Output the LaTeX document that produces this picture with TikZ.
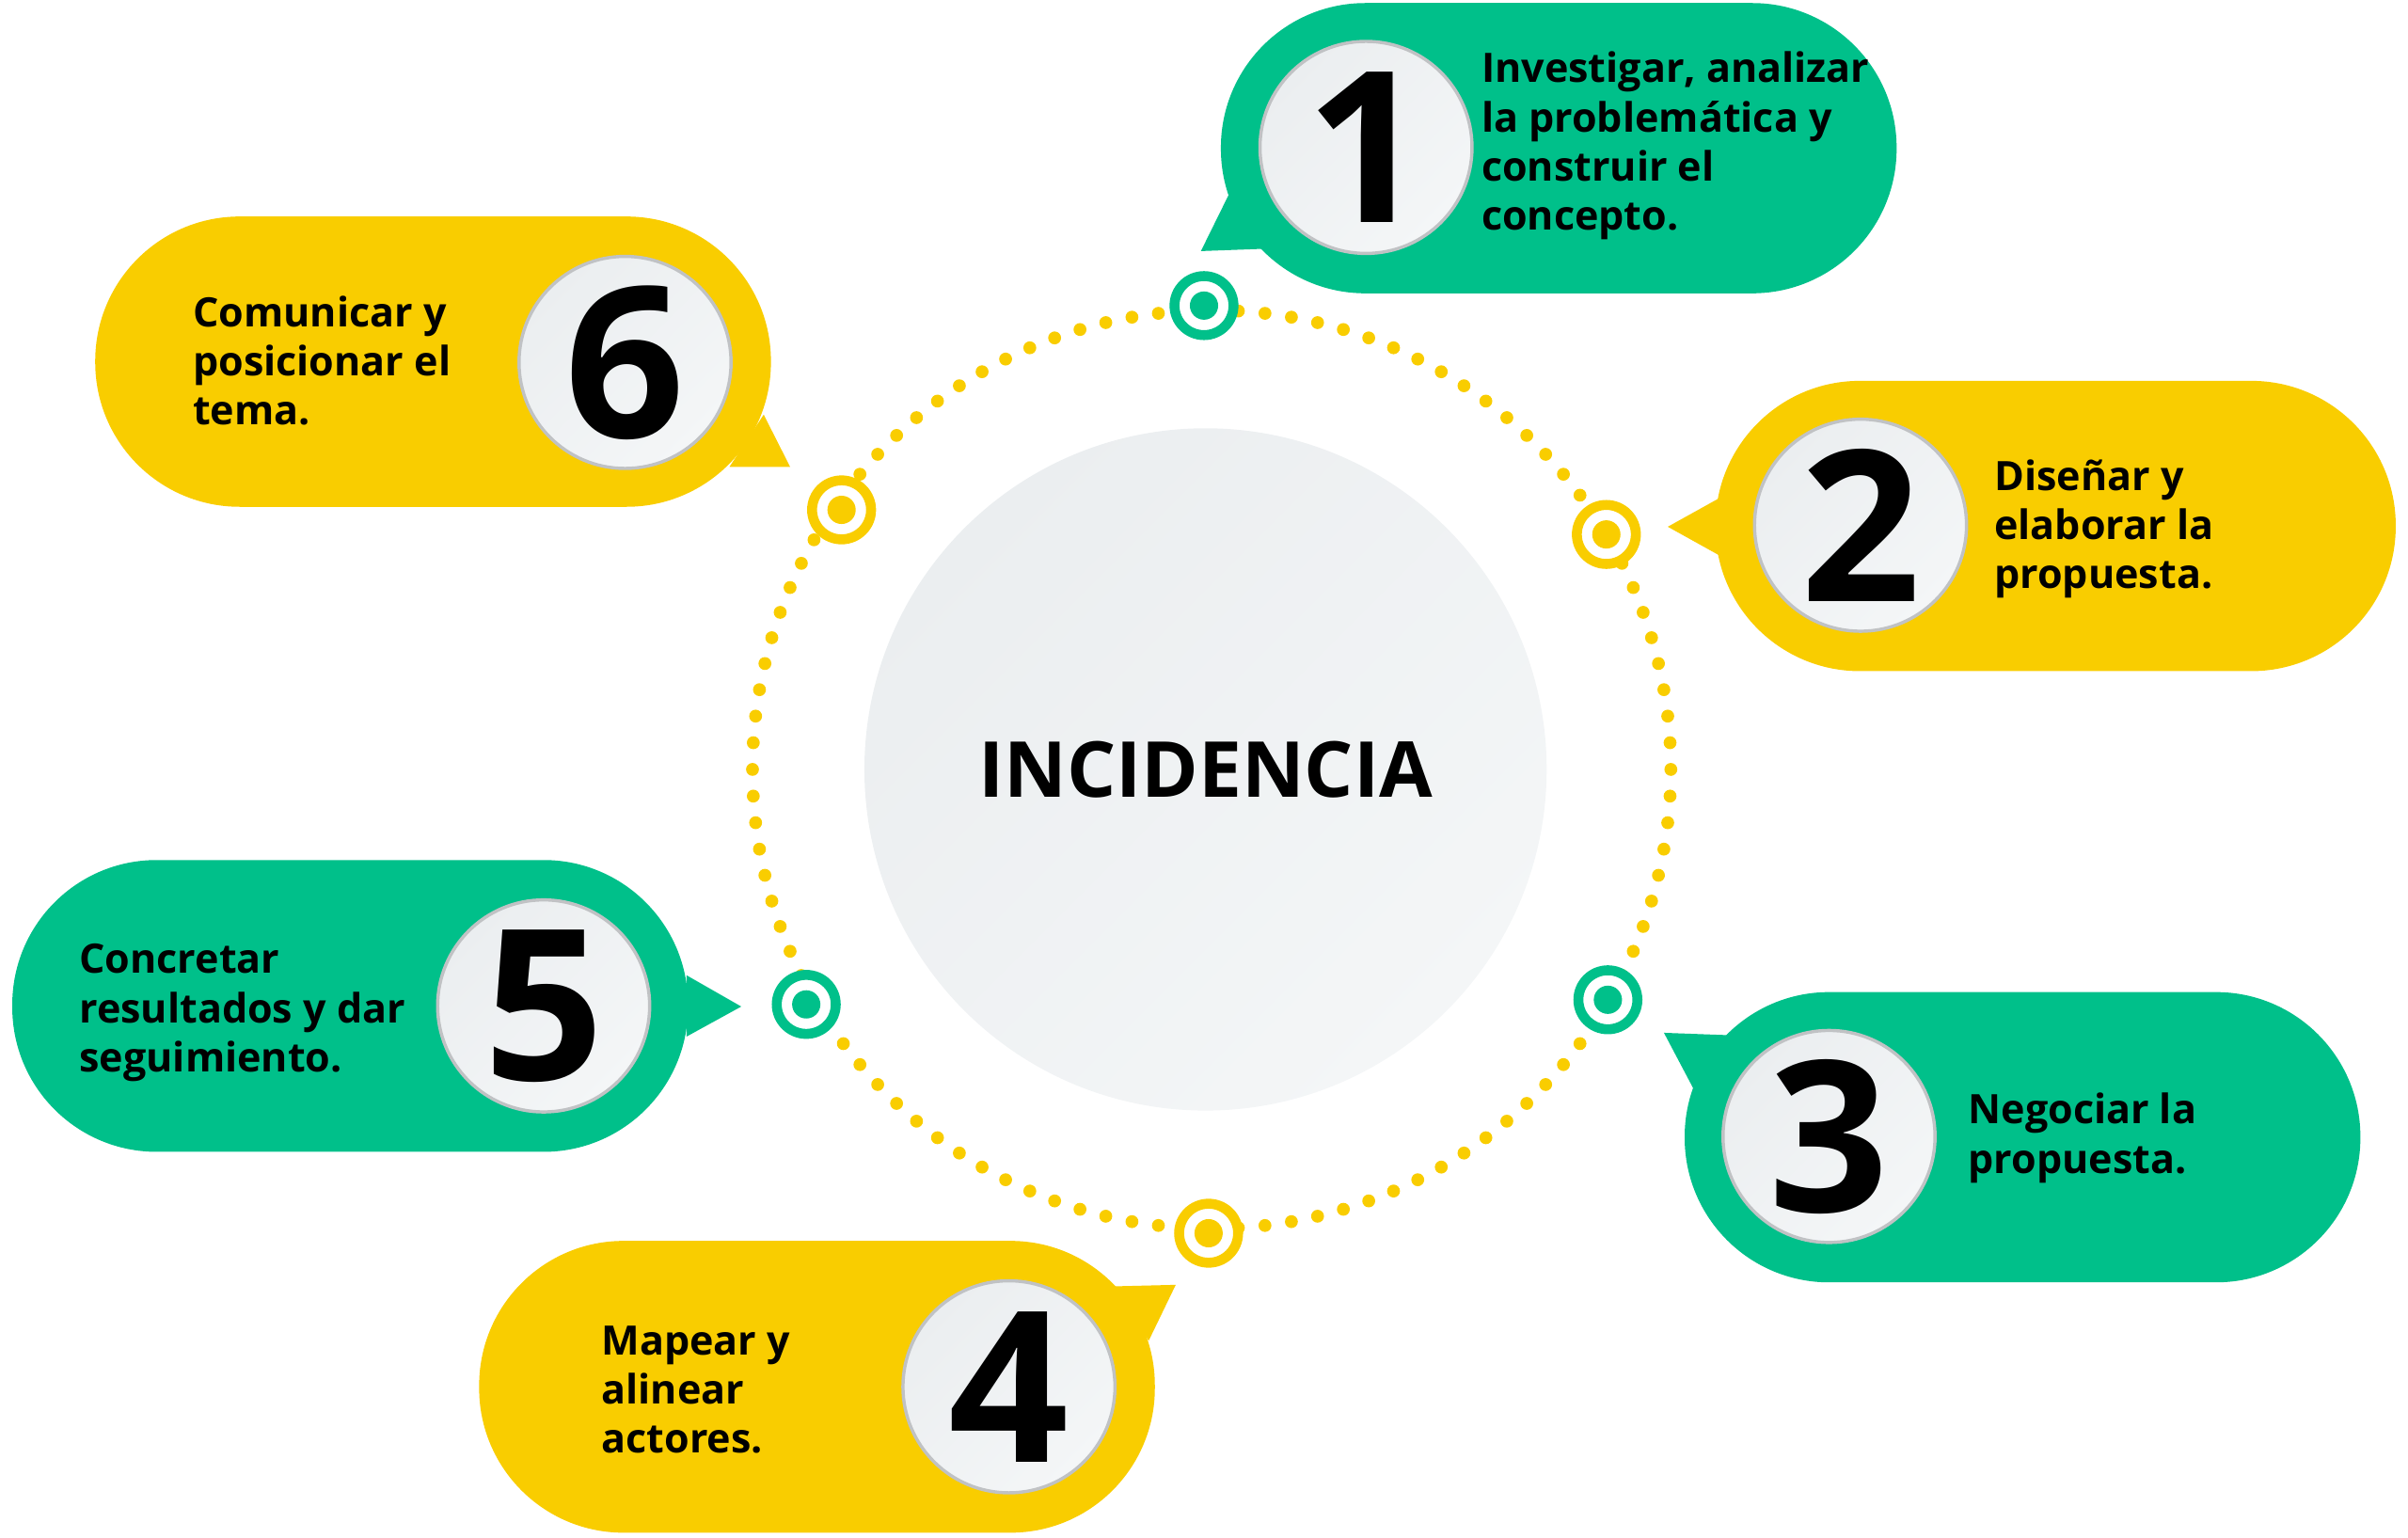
\documentclass[tikz,border=0pt]{standalone}
\usepackage{fontspec}
\setmainfont{Open Sans}
\definecolor{VerdePaso}{RGB}{0,192,138}
\definecolor{AmarilloPaso}{RGB}{249,205,0}
\definecolor{GrisCentroA}{RGB}{235,238,240}
\definecolor{GrisCentroB}{RGB}{244,246,247}
\definecolor{GrisBorde}{RGB}{192,194,196}
\usetikzlibrary{calc}

\begin{document}
\begin{tikzpicture}[x=0.01cm, y=-0.01cm,
  numero/.style={circle, minimum size=1.38cm, inner sep=0pt,
    draw=GrisBorde, line width=0.6pt,
    top color=GrisCentroA, bottom color=GrisCentroB, shading angle=45,
    font=\bfseries\fontsize{39}{39}\selectfont},
  texto/.style={anchor=west, align=left, inner sep=0pt,
    font=\bfseries\fontsize{7.5}{9.1}\selectfont},
  marca/.style={circle, minimum size=0.384cm, inner sep=0pt,
    draw=#1, line width=1.84pt, fill=white,
    path picture={\fill[#1] (path picture bounding box.center) circle (9.2);}}
]

\useasboundingbox (0,0) rectangle (1568,1001);

\coordinate (centro) at (789,501);

%% Circulo punteado
\foreach \i in {0,...,107}
  \fill[AmarilloPaso] ($(centro)+({\i*10/3}:299)$) circle (4.2);

% Marcas sobre el circulo
\node[marca=VerdePaso]    (m1) at (784,199) {};
\node[marca=AmarilloPaso] (m2) at (1046,348) {};
\node[marca=VerdePaso]    (m3) at (1047,651) {};
\node[marca=AmarilloPaso] (m4) at (787,803) {};
\node[marca=VerdePaso]    (m5) at (525,654) {};
\node[marca=AmarilloPaso] (m6) at (548,332) {};

%% Circulo central
\node[circle, minimum size=4.44cm, inner sep=0pt,
      top color=GrisCentroA, bottom color=GrisCentroB, shading angle=45,
      font=\bfseries\fontsize{14.3}{14.3}\selectfont] (incidencia) at (785,501) {INCIDENCIA};

%% Globos
% Globo 1
\fill[VerdePaso, rounded corners=0.94cm] (795,2) rectangle (1235,191);
\fill[VerdePaso] (800,127) -- (782,163.5) -- (823,162) -- cycle;
% Globo 2
\fill[AmarilloPaso, rounded corners=0.94cm] (1117,248) rectangle (1560,437);
\fill[AmarilloPaso] (1122,323) -- (1086,343) -- (1122,363) -- cycle;
% Globo 3
\fill[VerdePaso, rounded corners=0.94cm] (1097,646) rectangle (1537,835);
\fill[VerdePaso] (1124,674) -- (1083.5,672.5) -- (1102.5,708.5) -- cycle;
% Globo 4
\fill[AmarilloPaso, rounded corners=0.94cm] (312,808) rectangle (752,998);
\fill[AmarilloPaso] (725,837.6) -- (765.6,836.6) -- (748,873) -- cycle;
% Globo 5
\fill[VerdePaso, rounded corners=0.94cm] (8,560) rectangle (448,750);
\fill[VerdePaso] (447,635) -- (482.7,655.4) -- (447,675) -- cycle;
% Globo 6
\fill[AmarilloPaso, rounded corners=0.94cm] (62,141) rectangle (502,330);
\fill[AmarilloPaso] (497.3,270) -- (514.5,304) -- (475,304) -- cycle;

%% Numeros
\node[numero] (n1) at (889.5,96) {1};
\node[numero] (n2) at (1211.5,342) {2};
\node[numero] (n3) at (1191,740) {3};
\node[numero] (n4) at (657,903) {4};
\node[numero] (n5) at (354,655) {5};
\node[numero] (n6) at (407,236) {6};

%% Textos
\node[texto] (t1) at (964,95) {Investigar, analizar\\la problemática y\\construir el\\concepto.};
\node[texto] (t2) at (1298,344.5) {Diseñar y\\elaborar la\\propuesta.};
\node[texto] (t3) at (1281,741) {Negociar la\\propuesta.};
\node[texto] (t4) at (391,905) {Mapear y\\alinear\\actores.};
\node[texto] (t5) at (51,659.5) {Concretar\\resultados y dar\\seguimiento.};
\node[texto] (t6) at (125,235) {Comunicar y\\posicionar el\\tema.};

\end{tikzpicture}
\end{document}
